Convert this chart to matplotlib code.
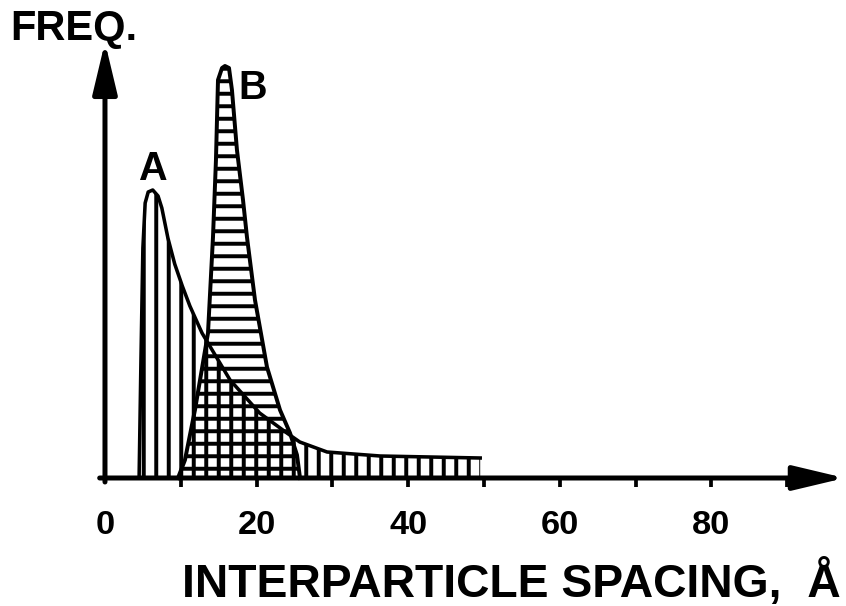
import matplotlib
matplotlib.use('Agg')
import matplotlib.pyplot as plt

plt.rcParams['font.family'] = ['Liberation Sans', 'DejaVu Sans']
plt.rcParams['font.weight'] = 'bold'
plt.rcParams['hatch.linewidth'] = 1.9

# curve A (vertical hatching): spacing in A, frequency in arbitrary units
a_x = [4.5, 4.75, 5.0, 5.3, 5.7, 6.3, 7.0, 7.5, 8.3, 9.2, 10.2, 11.2, 12.8, 16.5,
       20.4, 24.0, 25.7, 29.3, 36.3, 42.9, 49.5]
a_y = [0, 120, 230, 275, 286, 288, 282, 270, 240, 214, 192, 172, 145, 98,
       65, 45, 36, 26, 22, 21, 20]

# curve B (horizontal hatching)
b_x = [9.63, 10.55, 11.87, 13.59, 14.25, 14.64, 14.91, 15.44, 15.83, 16.36,
       16.75, 17.41, 18.21, 18.73, 19.79, 21.37, 23.09, 24.41, 25.33, 25.73]
b_y = [0, 18, 68, 145, 241, 318, 398, 410, 412, 410,
       388, 328, 278, 241, 178, 111, 68, 45, 23, 0]

tick_vals = [10, 20, 30, 40, 50, 60, 70, 80, 90]
label_vals = [0, 20, 40, 60, 80]

fig = plt.figure(figsize=(5.64, 4.04), dpi=150)
ax = fig.add_axes([0, 0, 1, 1])
ax.set_xlim(-13.85, 97.76)
ax.set_ylim(-128, 478)
ax.axis('off')

ax.fill_between(a_x, a_y, 0, facecolor='none', edgecolor='black', hatch='||', linewidth=0)
ax.fill_between(b_x, b_y, 0, facecolor='none', edgecolor='black', hatch='--', linewidth=0)
ax.plot(a_x, a_y, color='black', lw=1.7, solid_joinstyle='round')
ax.plot(b_x, b_y, color='black', lw=1.9, solid_joinstyle='round')

# axes as arrows
arrow = dict(arrowstyle='-|>,head_length=1.05,head_width=0.25', lw=2.4,
             color='black', mutation_scale=20, shrinkA=0, shrinkB=0)
ax.annotate('', xy=(97.6, 0), xytext=(-0.7, 0), arrowprops=arrow, zorder=5,
            annotation_clip=False)
ax.annotate('', xy=(0, 436), xytext=(0, -4), arrowprops=arrow, zorder=5,
            annotation_clip=False)

ax.vlines(tick_vals, -9, 0, color='black', lw=1.8)
for v in label_vals:
    ax.text(v, -47, str(v), ha='center', va='center', fontsize=16.5, fontweight='bold')

ax.text(6.2, 309, 'A', ha='center', va='center', fontsize=19, fontweight='bold')
ax.text(19.5, 390, 'B', ha='center', va='center', fontsize=19, fontweight='bold')
ax.text(-12.5, 438, 'FREQ.', ha='left', va='baseline', fontsize=20, fontweight='bold')
ax.text(10.2, -119, 'INTERPARTICLE SPACING,  Å', ha='left', va='baseline',
        fontsize=22.2, fontweight='bold')

fig.savefig('out.png', dpi=150)
